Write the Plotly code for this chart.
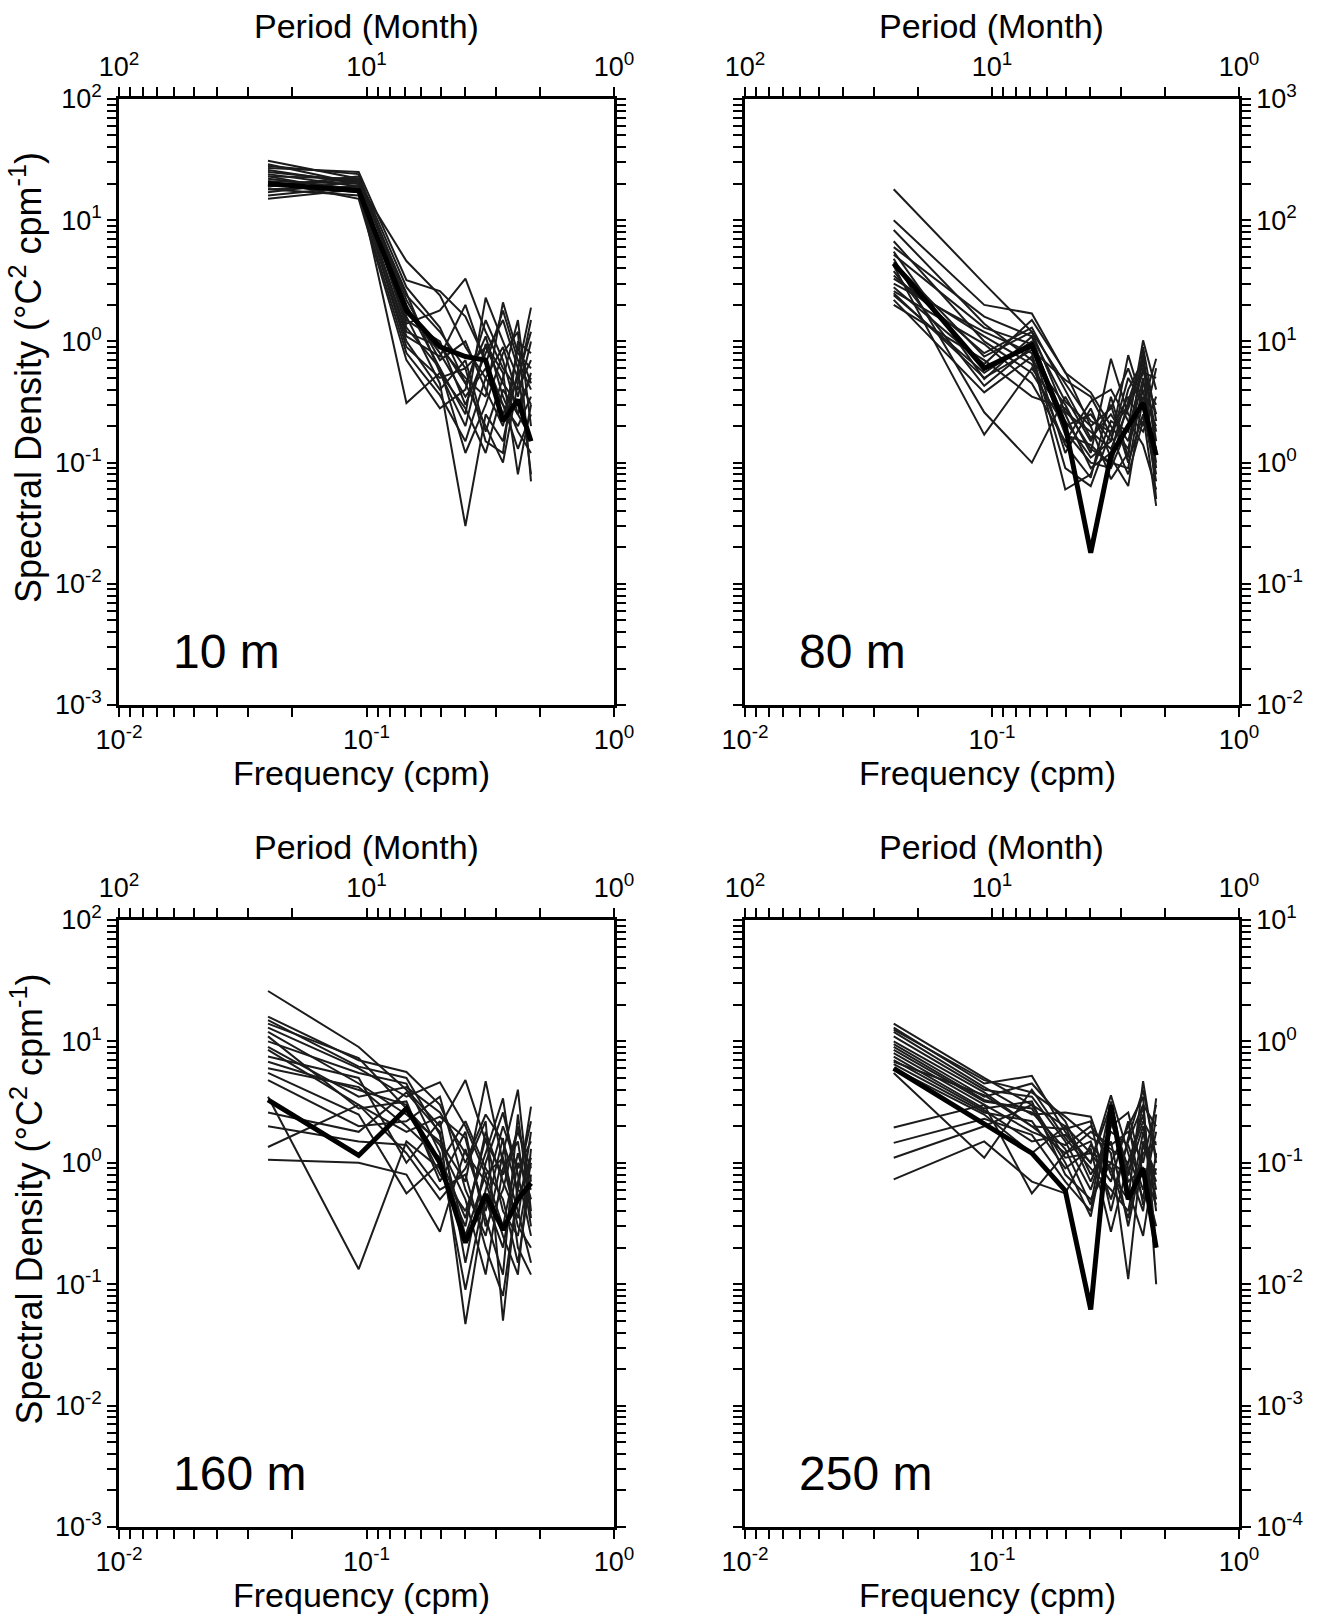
import plotly.graph_objects as go

# ---------------- data ----------------
FREQ = [0.040, 0.093, 0.145, 0.198, 0.251, 0.303, 0.356, 0.409, 0.462]  # cpm

DEPTHS = ["10 m", "80 m", "160 m", "250 m"]

THIN_10M = [
    [31, 22, 2.4, 1.2, 0.6, 0.9, 0.45, 0.3, 0.5],
    [28, 24, 1.9, 0.8, 0.35, 0.6, 0.25, 0.5, 1.2],
    [26, 20, 4.6, 2.4, 0.9, 0.5, 0.3, 0.2, 0.35],
    [25, 21, 1.4, 1.8, 3.3, 1.2, 0.6, 0.4, 0.7],
    [24, 19, 0.31, 0.55, 0.28, 0.12, 0.4, 0.25, 0.16],
    [23, 22, 2.0, 0.6, 0.25, 2.3, 1.0, 0.5, 0.3],
    [22, 18, 1.2, 0.9, 0.5, 0.35, 2.1, 0.8, 0.6],
    [21, 20, 1.6, 0.45, 0.03, 0.25, 0.15, 0.6, 1.9],
    [20, 17, 1.0, 0.4, 0.7, 0.18, 0.5, 1.5, 0.2],
    [19, 23, 2.8, 1.3, 0.45, 1.1, 0.35, 0.18, 0.12],
    [18, 16, 0.8, 0.36, 0.15, 0.5, 0.9, 0.35, 1.0],
    [17, 21, 2.2, 0.7, 1.0, 0.4, 0.2, 0.9, 0.45],
    [16, 19, 1.5, 1.0, 0.3, 0.8, 1.5, 0.6, 0.08],
    [15, 18, 0.9, 0.5, 0.6, 0.15, 0.12, 1.0, 0.8],
    [21, 15, 0.7, 0.28, 0.4, 1.5, 0.7, 0.25, 0.55],
    [27, 25, 3.2, 2.6, 1.6, 0.7, 0.3, 0.13, 0.25],
    [19, 22, 1.3, 0.6, 0.12, 0.3, 0.8, 1.2, 0.07],
    [23, 17, 1.7, 0.95, 0.45, 0.2, 0.1, 0.45, 1.5],
    [29, 20, 2.5, 0.55, 0.2, 0.95, 0.55, 0.08, 0.3],
    [18, 19, 1.1, 0.75, 2.0, 0.65, 1.8, 0.7, 0.4],
]
THICK_10M = [20, 17.5, 1.8, 0.9, 0.75, 0.7, 0.22, 0.33, 0.15]

THIN_80M = [
    [180, 30, 12, 4.5, 2.2, 1.8, 3.0, 6.5, 2.5],
    [100, 20, 17, 5.5, 3.8, 2.0, 1.3, 4.0, 1.0],
    [83, 14, 7.0, 3.0, 1.2, 7.2, 2.5, 1.8, 3.5],
    [67, 10, 5.5, 2.0, 2.5, 1.5, 7.7, 3.0, 0.8],
    [55, 4.9, 11, 1.8, 1.0, 0.9, 2.0, 10.2, 4.0],
    [48, 2.6, 1.0, 3.5, 1.5, 3.0, 1.0, 2.5, 0.44],
    [42, 1.7, 6.0, 2.5, 0.9, 1.2, 4.0, 7.0, 1.5],
    [38, 4.3, 9.0, 1.2, 2.8, 1.1, 0.64, 3.5, 2.0],
    [35, 8.0, 13, 4.0, 1.6, 2.5, 1.5, 5.0, 0.9],
    [30, 12, 8.0, 0.9, 0.64, 1.8, 3.5, 2.0, 6.0],
    [28, 6.5, 15, 5.6, 2.0, 0.73, 1.2, 8.0, 1.2],
    [26, 9.5, 4.5, 1.5, 3.2, 4.0, 2.2, 1.4, 0.6],
    [24, 5.5, 10, 2.2, 1.1, 1.5, 5.0, 3.0, 7.2],
    [22, 3.8, 7.5, 0.6, 0.8, 2.2, 1.8, 6.0, 1.8],
    [20, 7.0, 3.5, 2.8, 1.3, 1.0, 0.9, 4.5, 3.0],
    [60, 16, 11, 3.2, 2.0, 2.8, 6.0, 2.8, 0.7],
    [33, 11, 6.5, 1.4, 0.75, 3.5, 1.1, 9.0, 2.2],
    [45, 7.5, 12, 2.6, 1.8, 1.3, 2.8, 5.5, 5.0],
    [25, 5.0, 8.5, 4.8, 3.5, 1.7, 0.8, 2.2, 1.3],
    [52, 13, 9.5, 1.7, 1.4, 0.95, 3.2, 7.5, 0.5],
]
THICK_80M = [44, 6.0, 9.3, 2.0, 0.18, 1.15, 2.0, 3.1, 1.15]

THIN_160M = [
    [26, 9, 4.0, 2.0, 4.8, 1.5, 0.8, 1.8, 0.9],
    [16, 7, 5.6, 3.0, 1.0, 2.5, 1.5, 0.6, 2.9],
    [13, 6, 3.5, 4.6, 2.0, 0.8, 0.3, 1.2, 0.5],
    [12, 4.5, 2.5, 1.5, 0.7, 4.7, 1.0, 0.3, 0.2],
    [10, 5.5, 4.5, 1.2, 0.09, 0.6, 2.0, 0.9, 1.5],
    [8.5, 3.0, 1.8, 2.4, 1.6, 0.35, 0.12, 2.5, 0.35],
    [6.8, 4.0, 3.0, 0.8, 0.4, 1.2, 3.4, 0.5, 1.1],
    [5.5, 2.5, 0.56, 1.0, 2.2, 0.9, 0.5, 0.15, 0.8],
    [4.8, 2.0, 2.2, 3.5, 0.6, 0.25, 1.2, 4.0, 0.4],
    [3.5, 0.133, 1.5, 0.9, 0.3, 1.8, 0.7, 0.35, 1.8],
    [2.6, 1.8, 3.8, 1.8, 0.047, 0.5, 0.2, 1.0, 0.6],
    [1.35, 3.0, 1.2, 0.5, 0.9, 2.2, 0.05, 0.7, 2.2],
    [1.06, 1.0, 0.8, 0.27, 1.3, 0.4, 1.6, 0.2, 0.12],
    [14, 7.3, 2.8, 1.4, 0.5, 0.12, 0.9, 1.5, 0.3],
    [9, 3.5, 4.2, 2.6, 1.2, 0.7, 0.25, 0.12, 1.3],
    [7.5, 5.0, 1.0, 2.2, 0.15, 1.0, 2.6, 0.8, 0.25],
    [11, 2.8, 3.2, 0.7, 1.8, 0.3, 0.6, 2.0, 0.7],
    [6.0, 4.2, 2.0, 1.1, 0.35, 1.6, 0.4, 0.25, 1.0],
    [15, 6.2, 5.0, 1.7, 0.25, 0.8, 1.1, 0.4, 0.15],
    [2.0, 1.5, 1.4, 0.6, 0.8, 0.2, 0.08, 0.6, 0.5],
]
THICK_160M = [3.3, 1.15, 2.8, 1.0, 0.22, 0.55, 0.28, 0.5, 0.68]

THIN_250M = [
    [1.4, 0.5, 0.3, 0.2, 0.12, 0.1, 0.08, 0.2, 0.06],
    [1.3, 0.45, 0.52, 0.18, 0.1, 0.36, 0.12, 0.05, 0.34],
    [1.2, 0.42, 0.25, 0.26, 0.24, 0.08, 0.05, 0.47, 0.1],
    [1.1, 0.4, 0.35, 0.15, 0.06, 0.2, 0.26, 0.08, 0.03],
    [1.0, 0.38, 0.2, 0.12, 0.15, 0.05, 0.15, 0.3, 0.2],
    [0.95, 0.35, 0.45, 0.22, 0.08, 0.15, 0.03, 0.12, 0.15],
    [0.85, 0.32, 0.28, 0.1, 0.036, 0.25, 0.09, 0.04, 0.25],
    [0.8, 0.3, 0.18, 0.14, 0.2, 0.12, 0.011, 0.15, 0.08],
    [0.75, 0.28, 0.32, 0.08, 0.05, 0.1, 0.2, 0.35, 0.01],
    [0.7, 0.27, 0.15, 0.17, 0.1, 0.3, 0.06, 0.025, 0.12],
    [0.65, 0.26, 0.22, 0.09, 0.13, 0.027, 0.1, 0.25, 0.04],
    [0.6, 0.25, 0.12, 0.2, 0.07, 0.18, 0.14, 0.06, 0.18],
    [0.55, 0.11, 0.4, 0.16, 0.09, 0.06, 0.04, 0.18, 0.05],
    [0.195, 0.3, 0.056, 0.12, 0.18, 0.14, 0.18, 0.1, 0.3],
    [0.146, 0.23, 0.17, 0.07, 0.04, 0.22, 0.08, 0.3, 0.02],
    [0.11, 0.2, 0.3, 0.11, 0.12, 0.07, 0.22, 0.045, 0.09],
    [0.073, 0.15, 0.07, 0.056, 0.14, 0.09, 0.035, 0.14, 0.07],
    [1.25, 0.48, 0.38, 0.24, 0.16, 0.13, 0.1, 0.22, 0.14],
    [0.9, 0.33, 0.26, 0.13, 0.045, 0.32, 0.07, 0.09, 0.045],
    [0.68, 0.36, 0.2, 0.19, 0.22, 0.04, 0.16, 0.4, 0.11],
]
THICK_250M = [0.6, 0.21, 0.12, 0.059, 0.0062, 0.3, 0.05, 0.09, 0.02]

# log10 exponent ranges of each panel's y axis
Y_EXP = [(-3, 2), (-2, 3), (-3, 2), (-4, 1)]
X_EXP = (-2, 0)
PERIOD_LABELS = ["10<sup>2</sup>", "10<sup>1</sup>", "10<sup>0</sup>"]

# ---------------- layout geometry (pixels) ----------------
W, H = 1320, 1624
COLS = [(119, 614), (745, 1239)]
ROWS = [(99, 705), (920, 1527)]
FONT = "Liberation Sans, Arial, Helvetica, sans-serif"


def fx(p):
    return p / W


def fy(p):
    return 1 - p / H


def sup(n):
    return "10<sup>%d</sup>" % n


def y_ticks(lo, hi):
    vals, text = [], []
    for n in range(lo, hi + 1):
        vals.append(10.0 ** n)
        text.append(sup(n))
        if n < hi:
            for k in range(2, 10):
                vals.append(k * 10.0 ** n)
                text.append("")
    return vals, text


def x_ticks(lo, hi, labels):
    # tick marks as drawn in the figure (crowded at the low end of each decade)
    vals, text = [], []
    for i, n in enumerate(range(lo, hi + 1)):
        vals.append(10.0 ** n)
        text.append(labels[i])
        if n < hi:
            for k in range(2, 10):
                vals.append(10.0 ** (n + 1) / k)
                text.append("")
    return vals, text


thin_sets = [THIN_10M, THIN_80M, THIN_160M, THIN_250M]
thick_sets = [THICK_10M, THICK_80M, THICK_160M, THICK_250M]

fig = go.Figure()
layout = dict(
    width=W, height=H,
    margin=dict(l=0, r=0, t=0, b=0, pad=0, autoexpand=False),
    paper_bgcolor="white", plot_bgcolor="white",
    showlegend=False,
    font=dict(family=FONT, color="black", size=27),
)

axis_common = dict(
    type="log", showgrid=False, zeroline=False, automargin=False,
    showline=True, linecolor="black", linewidth=2.5,
    ticks="outside", ticklen=9, tickwidth=2, tickcolor="black",
    tickmode="array", tickfont=dict(family=FONT, size=27, color="black"),
)

annotations = []
bottom_labels = [sup(n) for n in range(X_EXP[0], X_EXP[1] + 1)]

for i in range(4):
    r, c = divmod(i, 2)
    x0, x1 = COLS[c]
    y0, y1 = ROWS[r]
    xa = "x" if i == 0 else "x%d" % (i + 1)
    ya = "y" if i == 0 else "y%d" % (i + 1)
    xt = "x%d" % (i + 5)

    for vals in thin_sets[i]:
        fig.add_trace(go.Scatter(
            x=FREQ, y=vals, mode="lines", xaxis=xa, yaxis=ya,
            line=dict(color="#1c1c1c", width=2), hoverinfo="skip"))
    fig.add_trace(go.Scatter(
        x=FREQ, y=thick_sets[i], mode="lines", xaxis=xt, yaxis=ya,
        line=dict(color="black", width=5), hoverinfo="skip"))

    bv, bt = x_ticks(X_EXP[0], X_EXP[1], bottom_labels)
    tv, tt = x_ticks(X_EXP[0], X_EXP[1], PERIOD_LABELS)
    yv, yt = y_ticks(*Y_EXP[i])

    layout["xaxis" if i == 0 else "xaxis%d" % (i + 1)] = dict(
        axis_common, domain=[fx(x0), fx(x1)], range=list(X_EXP),
        anchor=ya, side="bottom", tickvals=bv, ticktext=bt)
    layout["xaxis%d" % (i + 5)] = dict(
        axis_common, range=list(X_EXP), overlaying=xa,
        anchor=ya, side="top", tickvals=tv, ticktext=tt)
    layout["yaxis" if i == 0 else "yaxis%d" % (i + 1)] = dict(
        axis_common, domain=[fy(y1), fy(y0)], range=list(Y_EXP[i]),
        anchor=xa, side="left" if c == 0 else "right", mirror="ticks",
        tickvals=yv, ticktext=yt)

    xc = (x0 + x1) / 2
    annotations.append(dict(
        text="Period (Month)", x=fx(xc), y=fy(y0 - 73), xref="paper", yref="paper",
        showarrow=False, xanchor="center", yanchor="middle",
        font=dict(family=FONT, size=34)))
    annotations.append(dict(
        text="Frequency (cpm)", x=fx(xc - 5), y=fy(y1 + 68), xref="paper", yref="paper",
        showarrow=False, xanchor="center", yanchor="middle",
        font=dict(family=FONT, size=34)))
    annotations.append(dict(
        text=DEPTHS[i], x=fx(x0 + 52), y=fy(y1 - 54),
        xref="paper", yref="paper", showarrow=False,
        xanchor="left", yanchor="middle", font=dict(family=FONT, size=48)))
    if c == 0:
        annotations.append(dict(
            text="Spectral Density (°C<sup>2</sup> cpm<sup>-1</sup>)",
            x=fx(26), y=fy((y0 + y1) / 2 - 24), xref="paper", yref="paper",
            showarrow=False, textangle=-90, xanchor="center", yanchor="middle",
            font=dict(family=FONT, size=36)))

layout["annotations"] = annotations
fig.update_layout(**layout)
fig.write_html("out.html")
